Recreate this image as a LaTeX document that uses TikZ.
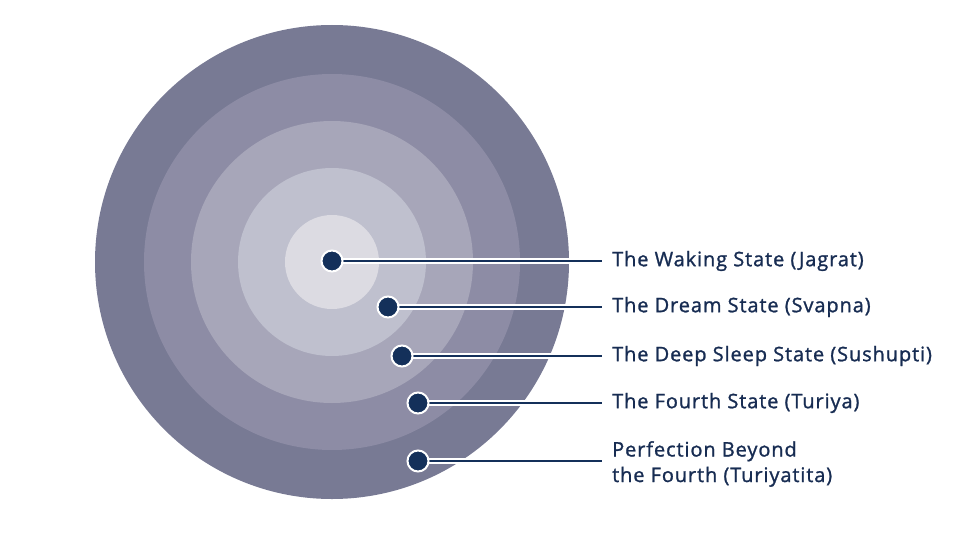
\documentclass[tikz,border=0pt]{standalone}
\usepackage{fontspec}
\setmainfont{Open Sans}[FakeBold=1.2, LetterSpace=4.5]
\definecolor{ringA}{HTML}{787A94}
\definecolor{ringB}{HTML}{8D8CA5}
\definecolor{ringC}{HTML}{A7A6B9}
\definecolor{ringD}{HTML}{BFC0CE}
\definecolor{ringE}{HTML}{DCDBE2}
\definecolor{navy}{HTML}{14305A}
\definecolor{txt}{HTML}{172C52}
\tikzset{
  x=1pt, y=-1pt,
  dotnode/.style={circle, fill=navy, draw=white, line width=2pt, minimum size=21pt, inner sep=0pt},
  halo/.style={white, line width=5.5pt},
  wire/.style={navy, line width=2.5pt},
  lbl/.style={anchor=west, text=txt, font=\fontsize{20}{25.5}\selectfont, inner sep=0pt, align=left}
}
\begin{document}
\begin{tikzpicture}
\useasboundingbox (0,0) rectangle (980,551);
\coordinate (c) at (332,262);
\fill[ringA] (c) circle (237);
\fill[ringB] (c) circle (188);
\fill[ringC] (c) circle (141);
\fill[ringD] (c) circle (94);
\fill[ringE] (c) circle (47);
\coordinate (e1) at (602,261);
\coordinate (e2) at (602,307);
\coordinate (e3) at (602,356);
\coordinate (e4) at (602,403);
\coordinate (e5) at (602,461);
\node[lbl] (t1) at (612,261) {The Waking State (Jagrat)};
\node[lbl] (t2) at (612,307) {The Dream State (Svapna)};
\node[lbl] (t3) at (612,356) {The Deep Sleep State (Sushupti)};
\node[lbl] (t4) at (612,403) {The Fourth State (Turiya)};
\node[lbl] (t5) at (612,464) {Perfection Beyond\\the Fourth (Turiyatita)};
\coordinate (d1) at (332,261);
\coordinate (d2) at (388,307);
\coordinate (d3) at (402,356);
\coordinate (d4) at (418,403);
\coordinate (d5) at (418,461);
\foreach \i in {1,...,5}{
  \draw[halo] (d\i) -- (e\i);
  \draw[wire] (d\i) -- (e\i);
  \node[dotnode] (n\i) at (d\i) {};
}
\end{tikzpicture}
\end{document}
